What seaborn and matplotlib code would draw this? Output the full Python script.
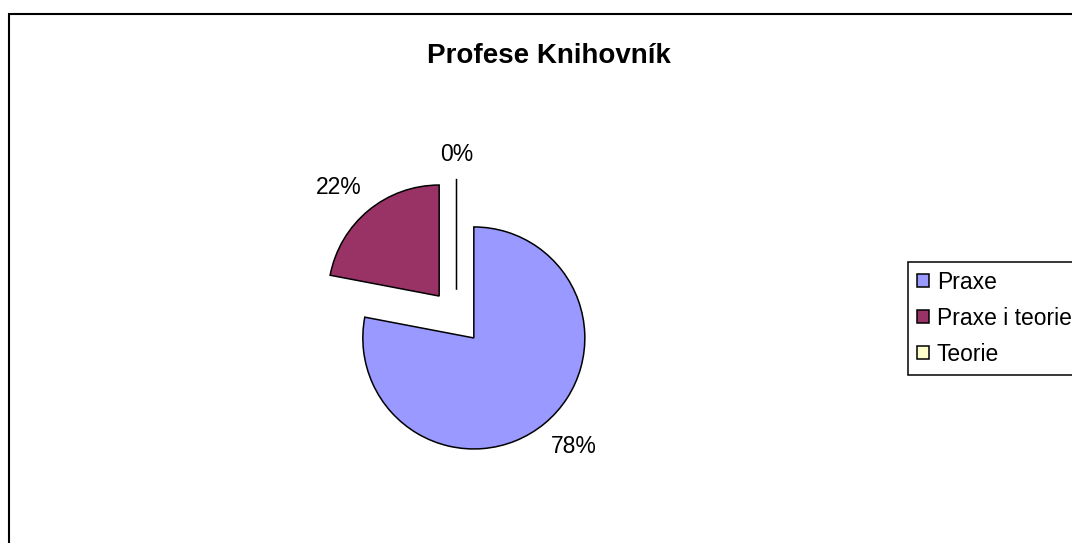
import matplotlib
matplotlib.use("Agg")
import numpy as np
import matplotlib.pyplot as plt
import matplotlib.patches as mpatches
import seaborn as sns

# =====================================
# Data
# =====================================
categories = ["Praxe", "Praxe i teorie", "Teorie"]
shares = [78, 22, 0]
colors = sns.color_palette(["#9999FF", "#993366", "#FFFFCC"])
title = "Profese Knihovník"

# =====================================
# Style
# =====================================
sns.set_theme(style="white")
plt.rcParams["font.family"] = ["Liberation Sans", "DejaVu Sans"]
plt.rcParams["text.color"] = "black"

W, H = 1072, 543
fig = plt.figure(figsize=(W / 100, H / 100), dpi=100)
fig.patch.set_facecolor("white")

# outer chart border (right and bottom edges run off the image)
x0, y_top = 8.5 / W, 1 - 14.5 / H
fig.patches.append(mpatches.Rectangle(
    (x0, -0.1), 1.2, y_top + 0.1,
    transform=fig.transFigure, fill=False,
    edgecolor="black", linewidth=1.5
))

# =====================================
# Pie
# =====================================
cx, cy, r = 456.5, 317, 111
half = 200
ax = fig.add_axes([
    (cx - half) / W,
    (H - cy - half) / H,
    2 * half / W,
    2 * half / H
])

wedges, texts, autotexts = ax.pie(
    shares,
    colors=colors,
    explode=[0.245] * len(shares),
    startangle=90,
    counterclock=False,
    autopct="%.0f%%",
    pctdistance=1.3,
    wedgeprops={"edgecolor": "black", "linewidth": 1.1},
    textprops={"fontsize": 16.5, "color": "black"},
)

# Excel-like label placement: a little further out, nudged counter-clockwise
for w, t, s in zip(wedges, autotexts, shares):
    mid = np.deg2rad((w.theta1 + w.theta2) / 2 + (3 if s > 0 else 0))
    dist = 1.33 if s > 0 else 1.22
    t.set_position((w.center[0] + dist * np.cos(mid),
                    w.center[1] + dist * np.sin(mid)))

lim = half / r
ax.set_xlim(-lim, lim)
ax.set_ylim(-lim, lim)
ax.set_aspect("auto")
ax.axis("off")

# =====================================
# Title and Legend
# =====================================
fig.text(549 / W, 1 - 63 / H, title,
         ha="center", va="baseline",
         fontsize=20, fontweight="bold", color="black")

handles = [
    mpatches.Patch(facecolor=c, edgecolor="black", linewidth=1.1)
    for c in colors
]
leg = fig.legend(
    handles, categories,
    loc="upper left",
    bbox_to_anchor=(908 / W, 1 - 262 / H),
    borderaxespad=0,
    fontsize=16.5,
    frameon=True,
    fancybox=False,
    shadow=False,
    handlelength=0.52,
    handleheight=0.52,
    handletextpad=0.35,
    labelspacing=0.57,
    borderpad=0.38,
)
leg.get_frame().set_edgecolor("black")
leg.get_frame().set_linewidth(1.1)
leg.get_frame().set_alpha(1)

fig.savefig("out.png", dpi=100, facecolor="white")
